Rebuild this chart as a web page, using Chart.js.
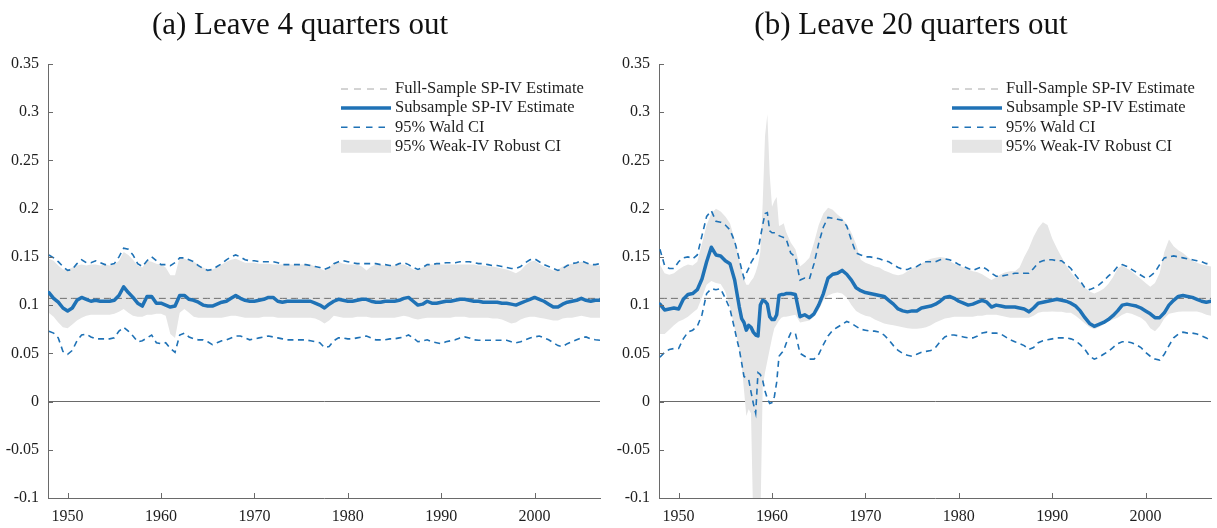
<!DOCTYPE html>
<html>
<head>
<meta charset="utf-8">
<script src="https://cdn.jsdelivr.net/npm/chart.js@4"></script>
<style>
  body { margin: 0; background: #fff; width: 1217px; height: 528px; position: relative; overflow: hidden; }
  canvas { position: absolute; top: 0; }
</style>
</head>
<body>
<canvas id="chart-a" width="608" height="528" style="left:0"></canvas>
<canvas id="chart-b" width="606" height="528" style="left:611px"></canvas>
<script>
const TITLES = ['(a) Leave 4 quarters out', '(b) Leave 20 quarters out'];
const LEGEND_LABELS = ['Full-Sample SP-IV Estimate', 'Subsample SP-IV Estimate', '95% Wald CI', '95% Weak-IV Robust CI'];
const X_TICKS = [1950, 1960, 1970, 1980, 1990, 2000];
const Y_TICKS = [-0.1, -0.05, 0, 0.05, 0.1, 0.15, 0.2, 0.25, 0.3, 0.35];
const FULL_SAMPLE = 0.107;

// panel (a): half-year grid
const A_YEARS = [
  1948, 1948.5, 1949, 1949.5, 1950, 1950.5, 1951, 1951.5, 1952, 1952.5,
  1953, 1953.5, 1954, 1954.5, 1955, 1955.5, 1956, 1956.5, 1957, 1957.5,
  1958, 1958.5, 1959, 1959.5, 1960, 1960.5, 1961, 1961.5, 1962, 1962.5,
  1963, 1963.5, 1964, 1964.5, 1965, 1965.5, 1966, 1966.5, 1967, 1967.5,
  1968, 1968.5, 1969, 1969.5, 1970, 1970.5, 1971, 1971.5, 1972, 1972.5,
  1973, 1973.5, 1974, 1974.5, 1975, 1975.5, 1976, 1976.5, 1977, 1977.5,
  1978, 1978.5, 1979, 1979.5, 1980, 1980.5, 1981, 1981.5, 1982, 1982.5,
  1983, 1983.5, 1984, 1984.5, 1985, 1985.5, 1986, 1986.5, 1987, 1987.5,
  1988, 1988.5, 1989, 1989.5, 1990, 1990.5, 1991, 1991.5, 1992, 1992.5,
  1993, 1993.5, 1994, 1994.5, 1995, 1995.5, 1996, 1996.5, 1997, 1997.5,
  1998, 1998.5, 1999, 1999.5, 2000, 2000.5, 2001, 2001.5, 2002, 2002.5,
  2003, 2003.5, 2004, 2004.5, 2005, 2005.5, 2006, 2006.5, 2007
];
const A_EST = [
  0.113, 0.107, 0.103, 0.097, 0.094, 0.097, 0.105, 0.108, 0.106, 0.104,
  0.105, 0.104, 0.104, 0.104, 0.105, 0.110, 0.119, 0.113, 0.108, 0.102,
  0.099, 0.109, 0.109, 0.102, 0.102, 0.100, 0.098, 0.099, 0.110, 0.110,
  0.106, 0.105, 0.103, 0.100, 0.099, 0.099, 0.101, 0.103, 0.104, 0.107,
  0.110, 0.107, 0.105, 0.104, 0.104, 0.105, 0.106, 0.108, 0.108, 0.104,
  0.103, 0.104, 0.104, 0.104, 0.104, 0.104, 0.104, 0.102, 0.100, 0.097,
  0.101, 0.104, 0.106, 0.105, 0.104, 0.104, 0.105, 0.106, 0.106, 0.104,
  0.103, 0.103, 0.104, 0.104, 0.104, 0.105, 0.107, 0.108, 0.104, 0.100,
  0.101, 0.104, 0.102, 0.102, 0.103, 0.104, 0.104, 0.105, 0.106, 0.106,
  0.105, 0.104, 0.104, 0.103, 0.103, 0.103, 0.103, 0.102, 0.102, 0.101,
  0.100, 0.102, 0.104, 0.106, 0.108, 0.106, 0.104, 0.101, 0.098, 0.098,
  0.101, 0.103, 0.104, 0.105, 0.107, 0.105, 0.104, 0.105, 0.105
];
const A_WALD_HI = [
  0.152, 0.149, 0.145, 0.140, 0.136, 0.137, 0.143, 0.147, 0.144, 0.144,
  0.146, 0.144, 0.142, 0.142, 0.143, 0.150, 0.159, 0.158, 0.152, 0.143,
  0.140, 0.146, 0.150, 0.146, 0.142, 0.142, 0.141, 0.144, 0.149, 0.149,
  0.147, 0.145, 0.141, 0.138, 0.136, 0.137, 0.140, 0.143, 0.147, 0.150,
  0.152, 0.150, 0.147, 0.146, 0.146, 0.145, 0.145, 0.145, 0.145, 0.144,
  0.142, 0.142, 0.142, 0.142, 0.142, 0.142, 0.141, 0.140, 0.139, 0.137,
  0.139, 0.143, 0.145, 0.146, 0.145, 0.144, 0.143, 0.143, 0.143, 0.143,
  0.143, 0.142, 0.142, 0.141, 0.141, 0.143, 0.144, 0.142, 0.139, 0.137,
  0.139, 0.142, 0.142, 0.143, 0.143, 0.144, 0.144, 0.144, 0.145, 0.145,
  0.145, 0.144, 0.143, 0.143, 0.142, 0.141, 0.141, 0.140, 0.139, 0.138,
  0.138, 0.140, 0.144, 0.147, 0.148, 0.145, 0.142, 0.140, 0.138, 0.136,
  0.138, 0.141, 0.143, 0.144, 0.146, 0.144, 0.142, 0.142, 0.143
];
const A_WALD_LO = [
  0.073, 0.071, 0.066, 0.052, 0.049, 0.053, 0.063, 0.069, 0.070, 0.067,
  0.065, 0.065, 0.065, 0.065, 0.066, 0.073, 0.077, 0.073, 0.068, 0.062,
  0.063, 0.066, 0.069, 0.061, 0.060, 0.061, 0.055, 0.051, 0.069, 0.071,
  0.067, 0.065, 0.064, 0.064, 0.062, 0.059, 0.061, 0.063, 0.064, 0.066,
  0.068, 0.068, 0.066, 0.064, 0.065, 0.066, 0.067, 0.068, 0.067, 0.066,
  0.065, 0.064, 0.064, 0.064, 0.064, 0.064, 0.063, 0.062, 0.061, 0.056,
  0.057, 0.063, 0.066, 0.066, 0.065, 0.065, 0.066, 0.067, 0.068, 0.066,
  0.064, 0.064, 0.064, 0.065, 0.065, 0.066, 0.067, 0.069, 0.066, 0.062,
  0.063, 0.064, 0.062, 0.061, 0.060, 0.062, 0.063, 0.064, 0.066, 0.067,
  0.066, 0.064, 0.0635, 0.0635, 0.0635, 0.0635, 0.0635, 0.0635, 0.0635, 0.062,
  0.061, 0.062, 0.064, 0.066, 0.067, 0.068, 0.066, 0.064, 0.061, 0.058,
  0.057, 0.060, 0.062, 0.064, 0.066, 0.067, 0.065, 0.064, 0.0635
];
const A_ROBUST_HI = [
  0.148, 0.146, 0.141, 0.137, 0.137, 0.139, 0.141, 0.142, 0.141, 0.142,
  0.142, 0.141, 0.142, 0.141, 0.142, 0.146, 0.155, 0.152, 0.147, 0.141,
  0.139, 0.146, 0.145, 0.143, 0.142, 0.139, 0.131, 0.131, 0.150, 0.148,
  0.146, 0.145, 0.142, 0.139, 0.137, 0.137, 0.139, 0.142, 0.145, 0.147,
  0.148, 0.146, 0.144, 0.144, 0.144, 0.143, 0.143, 0.143, 0.142, 0.142,
  0.142, 0.142, 0.142, 0.141, 0.142, 0.142, 0.142, 0.140, 0.138, 0.136,
  0.139, 0.144, 0.145, 0.143, 0.142, 0.142, 0.142, 0.140, 0.136, 0.140,
  0.142, 0.142, 0.141, 0.141, 0.141, 0.142, 0.142, 0.140, 0.137, 0.136,
  0.139, 0.142, 0.142, 0.142, 0.142, 0.142, 0.142, 0.142, 0.142, 0.142,
  0.142, 0.142, 0.141, 0.141, 0.140, 0.140, 0.139, 0.138, 0.137, 0.135,
  0.133, 0.136, 0.141, 0.145, 0.146, 0.143, 0.140, 0.138, 0.136, 0.137,
  0.140, 0.142, 0.143, 0.144, 0.145, 0.144, 0.142, 0.141, 0.141
];
const A_ROBUST_LO = [
  0.092, 0.088, 0.082, 0.077, 0.076, 0.080, 0.084, 0.087, 0.089, 0.090,
  0.090, 0.090, 0.090, 0.090, 0.091, 0.093, 0.096, 0.092, 0.089, 0.088,
  0.088, 0.090, 0.090, 0.091, 0.091, 0.089, 0.070, 0.066, 0.092, 0.096,
  0.092, 0.088, 0.087, 0.087, 0.087, 0.087, 0.087, 0.087, 0.088, 0.089,
  0.089, 0.088, 0.087, 0.087, 0.087, 0.087, 0.088, 0.088, 0.088, 0.087,
  0.087, 0.087, 0.087, 0.087, 0.087, 0.087, 0.087, 0.086, 0.084, 0.081,
  0.084, 0.089, 0.088, 0.087, 0.087, 0.087, 0.088, 0.088, 0.088, 0.087,
  0.087, 0.087, 0.087, 0.087, 0.087, 0.088, 0.089, 0.088, 0.086, 0.085,
  0.086, 0.087, 0.087, 0.087, 0.087, 0.087, 0.087, 0.088, 0.088, 0.088,
  0.087, 0.087, 0.087, 0.087, 0.087, 0.086, 0.086, 0.085, 0.083, 0.081,
  0.082, 0.085, 0.087, 0.088, 0.088, 0.087, 0.086, 0.085, 0.084, 0.084,
  0.086, 0.087, 0.087, 0.088, 0.089, 0.088, 0.087, 0.087, 0.087
];

// panel (b): half-year grid, quarterly through the late-1950s swing
const B_YEARS = [
  1948, 1948.5, 1949, 1949.5, 1950, 1950.5, 1951, 1951.5, 1952, 1952.5,
  1953, 1953.5, 1954, 1954.5, 1955, 1955.5, 1956,
  1956.25, 1956.5, 1956.75, 1957, 1957.25, 1957.5, 1957.75, 1958, 1958.25, 1958.5,
  1958.75, 1959, 1959.25, 1959.5, 1959.75, 1960, 1960.25, 1960.5, 1960.75, 1961, 1961.25,
  1961.5, 1962, 1962.5, 1963, 1963.5, 1964, 1964.5, 1965, 1965.5, 1966,
  1966.5, 1967, 1967.5, 1968, 1968.5, 1969, 1969.5, 1970, 1970.5, 1971,
  1971.5, 1972, 1972.5, 1973, 1973.5, 1974, 1974.5, 1975, 1975.5, 1976,
  1976.5, 1977, 1977.5, 1978, 1978.5, 1979, 1979.5, 1980, 1980.5, 1981,
  1981.5, 1982, 1982.5, 1983, 1983.5, 1984, 1984.5, 1985, 1985.5, 1986,
  1986.5, 1987, 1987.5, 1988, 1988.5, 1989, 1989.5, 1990, 1990.5, 1991,
  1991.5, 1992, 1992.5, 1993, 1993.5, 1994, 1994.5, 1995, 1995.5, 1996,
  1996.5, 1997, 1997.5, 1998, 1998.5, 1999, 1999.5, 2000, 2000.5, 2001,
  2001.5, 2002, 2002.5, 2003, 2003.5, 2004, 2004.5, 2005, 2005.5, 2006,
  2006.5, 2007
];
const B_EST = [
  0.101, 0.095, 0.096, 0.097, 0.096, 0.106, 0.111, 0.112, 0.116, 0.127,
  0.145, 0.160, 0.152, 0.151, 0.146, 0.143, 0.126,
  0.112, 0.098, 0.086, 0.082, 0.074, 0.079, 0.077, 0.072, 0.069, 0.068,
  0.100, 0.105, 0.104, 0.101, 0.088, 0.085, 0.085, 0.090, 0.110, 0.111, 0.111,
  0.112, 0.112, 0.111, 0.088, 0.090, 0.087, 0.091, 0.100, 0.112, 0.128,
  0.132, 0.133, 0.136, 0.132, 0.126, 0.118, 0.115, 0.113, 0.112, 0.111,
  0.110, 0.109, 0.105, 0.101, 0.096, 0.094, 0.093, 0.094, 0.094, 0.097,
  0.098, 0.099, 0.101, 0.104, 0.108, 0.109, 0.107, 0.104, 0.102, 0.100,
  0.101, 0.103, 0.105, 0.103, 0.098, 0.100, 0.099, 0.098, 0.098, 0.098,
  0.097, 0.096, 0.093, 0.097, 0.102, 0.103, 0.104, 0.105, 0.106, 0.105,
  0.104, 0.102, 0.099, 0.094, 0.087, 0.081, 0.078, 0.080, 0.082, 0.085,
  0.089, 0.094, 0.100, 0.101, 0.100, 0.099, 0.097, 0.094, 0.091, 0.087,
  0.087, 0.092, 0.100, 0.105, 0.109, 0.110, 0.109, 0.108, 0.106, 0.104,
  0.103, 0.104
];
const B_WALD_HI = [
  0.158, 0.141, 0.138, 0.138, 0.145, 0.149, 0.150, 0.148, 0.152, 0.172,
  0.192, 0.198, 0.187, 0.186, 0.183, 0.178, 0.166,
  0.157, 0.147, 0.137, 0.128, 0.133, 0.138, 0.144, 0.148, 0.151, 0.156,
  0.170, 0.183, 0.195, 0.196, 0.177, 0.175, 0.175, 0.174, 0.172, 0.171, 0.170,
  0.169, 0.154, 0.150, 0.126, 0.128, 0.127, 0.143, 0.164, 0.181, 0.191,
  0.190, 0.189, 0.188, 0.182, 0.167, 0.154, 0.152, 0.150, 0.150, 0.149,
  0.148, 0.146, 0.145, 0.142, 0.139, 0.137, 0.137, 0.139, 0.140, 0.143,
  0.145, 0.145, 0.145, 0.147, 0.148, 0.147, 0.145, 0.142, 0.140, 0.138,
  0.136, 0.138, 0.140, 0.137, 0.133, 0.130, 0.130, 0.131, 0.132, 0.133,
  0.133, 0.133, 0.133, 0.138, 0.144, 0.146, 0.147, 0.147, 0.146, 0.146,
  0.142, 0.138, 0.131, 0.125, 0.118, 0.116, 0.118, 0.121, 0.125, 0.130,
  0.134, 0.140, 0.142, 0.140, 0.137, 0.134, 0.131, 0.128, 0.130, 0.134,
  0.142, 0.149, 0.150, 0.151, 0.150, 0.149, 0.148, 0.147, 0.146, 0.145,
  0.143, 0.143
];
const B_WALD_LO = [
  0.046, 0.051, 0.054, 0.055, 0.055, 0.065, 0.072, 0.074, 0.078, 0.090,
  0.112, 0.117, 0.116, 0.117, 0.107, 0.096, 0.075,
  0.064, 0.054, 0.040, 0.026, 0.024, 0.023, 0.010, -0.002, -0.012, 0.030,
  0.028, 0.022, 0.011, 0.003, -0.002, -0.001, 0.005, 0.020, 0.047, 0.050, 0.053,
  0.060, 0.071, 0.071, 0.050, 0.047, 0.044, 0.044, 0.049, 0.059, 0.068,
  0.074, 0.077, 0.080, 0.083, 0.081, 0.078, 0.075, 0.074, 0.073, 0.073,
  0.072, 0.069, 0.064, 0.058, 0.053, 0.050, 0.048, 0.047, 0.049, 0.051,
  0.052, 0.053, 0.056, 0.062, 0.067, 0.069, 0.069, 0.068, 0.067, 0.066,
  0.066, 0.068, 0.071, 0.072, 0.071, 0.071, 0.070, 0.067, 0.064, 0.062,
  0.060, 0.058, 0.054, 0.056, 0.061, 0.063, 0.064, 0.065, 0.066, 0.066,
  0.066, 0.065, 0.063, 0.059, 0.054, 0.047, 0.044, 0.046, 0.049, 0.052,
  0.056, 0.060, 0.062, 0.062, 0.061, 0.059, 0.056, 0.051, 0.047, 0.044,
  0.043, 0.049, 0.058, 0.066, 0.070, 0.072, 0.071, 0.071, 0.070, 0.068,
  0.066, 0.063
];
const B_ROBUST_HI = [
  0.142, 0.133, 0.1315, 0.133, 0.137, 0.140, 0.142, 0.141, 0.145, 0.164,
  0.183, 0.195, 0.200, 0.197, 0.192, 0.185, 0.168,
  0.158, 0.147, 0.136, 0.127, 0.121, 0.121, 0.125, 0.128, 0.134, 0.142,
  0.155, 0.205, 0.275, 0.298, 0.236, 0.202, 0.208, 0.212, 0.182, 0.183, 0.185,
  0.176, 0.165, 0.158, 0.140, 0.144, 0.149, 0.165, 0.183, 0.195, 0.201,
  0.199, 0.194, 0.190, 0.184, 0.175, 0.163, 0.147, 0.144, 0.142, 0.140,
  0.139, 0.136, 0.134, 0.132, 0.131, 0.132, 0.135, 0.138, 0.140, 0.143,
  0.146, 0.148, 0.149, 0.150, 0.149, 0.146, 0.143, 0.141, 0.139, 0.137,
  0.135, 0.134, 0.132, 0.129, 0.126, 0.129, 0.132, 0.134, 0.135, 0.135,
  0.139, 0.150, 0.159, 0.171, 0.180, 0.186, 0.183, 0.169, 0.159, 0.150,
  0.141, 0.134, 0.128, 0.123, 0.118, 0.114, 0.112, 0.114, 0.117, 0.122,
  0.129, 0.138, 0.141, 0.138, 0.135, 0.131, 0.127, 0.123, 0.119, 0.123,
  0.133, 0.155, 0.168, 0.161, 0.157, 0.154, 0.150, 0.146, 0.144, 0.142,
  0.141, 0.140
];
const B_ROBUST_LO = [
  0.070, 0.070, 0.0745, 0.079, 0.083, 0.085, 0.088, 0.092, 0.096, 0.108,
  0.121, 0.125, 0.123, 0.122, 0.114, 0.098, 0.076,
  0.066, 0.053, 0.038, 0.012, -0.015, -0.008, -0.012, -0.13, -0.13, -0.13,
  -0.13, 0.015, 0.030, 0.042, 0.054, 0.066, 0.076, 0.080, 0.084, 0.087, 0.088,
  0.088, 0.089, 0.090, 0.082, 0.083, 0.084, 0.088, 0.095, 0.105, 0.110,
  0.112, 0.113, 0.112, 0.108, 0.100, 0.094, 0.091, 0.089, 0.088, 0.085,
  0.083, 0.081, 0.080, 0.079, 0.078, 0.077, 0.076, 0.0755, 0.0755, 0.076,
  0.077, 0.079, 0.082, 0.084, 0.086, 0.087, 0.088, 0.088, 0.088, 0.088,
  0.088, 0.089, 0.089, 0.090, 0.090, 0.090, 0.089, 0.088, 0.087, 0.087,
  0.087, 0.087, 0.087, 0.089, 0.092, 0.093, 0.093, 0.0935, 0.093, 0.093,
  0.092, 0.092, 0.089, 0.085, 0.081, 0.077, 0.075, 0.077, 0.080, 0.083,
  0.085, 0.087, 0.090, 0.092, 0.091, 0.089, 0.087, 0.083, 0.076, 0.073,
  0.078, 0.086, 0.091, 0.092, 0.093, 0.0935, 0.0935, 0.0935, 0.0935, 0.092,
  0.090, 0.089
];

const FONT = "'Liberation Serif', 'Times New Roman', serif";
const BLUE = '#1f72b6';
const BAND_GRAY = '#e5e5e5';
const AXIS_GRAY = '#6a6a6a';
const TEXT_DARK = '#1e1e1e';

// MATLAB-style ticks pointing into the plot
const inwardTicks = {
  id: 'inwardTicks',
  afterDraw(chart) {
    const { ctx, chartArea, scales } = chart;
    ctx.save();
    ctx.strokeStyle = AXIS_GRAY;
    ctx.lineWidth = 1;
    ctx.beginPath();
    scales.y.ticks.forEach(t => {
      const y = Math.round(scales.y.getPixelForValue(t.value)) + 0.5;
      ctx.moveTo(chartArea.left, y);
      ctx.lineTo(chartArea.left + 5, y);
    });
    scales.x.ticks.forEach(t => {
      const x = Math.round(scales.x.getPixelForValue(t.value)) + 0.5;
      ctx.moveTo(x, chartArea.bottom);
      ctx.lineTo(x, chartArea.bottom - 5);
    });
    ctx.stroke();
    ctx.restore();
  }
};

// legend in the upper right corner of the plot area
const cornerLegend = {
  id: 'cornerLegend',
  afterDraw(chart) {
    const { ctx, chartArea } = chart;
    const x0 = chartArea.right - 259;
    const x1 = x0 + 50;
    const tx = chartArea.right - 205;
    ctx.save();
    LEGEND_LABELS.forEach((label, i) => {
      const y = chartArea.top + 25 + i * 19.1;
      ctx.beginPath();
      if (i === 0) {
        ctx.strokeStyle = '#a8a8a8';
        ctx.lineWidth = 1;
        ctx.setLineDash([7, 6]);
        ctx.moveTo(x0, y); ctx.lineTo(x1, y); ctx.stroke();
      } else if (i === 1) {
        ctx.strokeStyle = BLUE;
        ctx.lineWidth = 3.5;
        ctx.setLineDash([]);
        ctx.moveTo(x0, y); ctx.lineTo(x1, y); ctx.stroke();
      } else if (i === 2) {
        ctx.strokeStyle = BLUE;
        ctx.lineWidth = 1.6;
        ctx.setLineDash([6.5, 6]);
        ctx.moveTo(x0, y); ctx.lineTo(x1, y); ctx.stroke();
      } else {
        ctx.fillStyle = BAND_GRAY;
        ctx.fillRect(x0, y - 6.5, x1 - x0, 13);
      }
      ctx.setLineDash([]);
      ctx.fillStyle = TEXT_DARK;
      ctx.font = `16.5px ${FONT}`;
      ctx.textBaseline = 'middle';
      ctx.fillText(label, tx, y);
    });
    ctx.restore();
  }
};

function buildPanel(canvasId, title, years, est, waldHi, waldLo, robustHi, robustLo, padRight) {
  const line = (extra) => Object.assign({
    pointRadius: 0,
    pointHoverRadius: 0,
    fill: false,
    tension: 0
  }, extra);

  return new Chart(document.getElementById(canvasId), {
    type: 'line',
    data: {
      labels: years,
      datasets: [
        line({ label: LEGEND_LABELS[1], data: est, borderColor: BLUE, borderWidth: 3.5, borderJoinStyle: 'round', borderCapStyle: 'round' }),
        line({ label: LEGEND_LABELS[0], data: years.map(() => FULL_SAMPLE), borderColor: '#6e6e6e', borderWidth: 1, borderDash: [7, 4] }),
        line({ label: LEGEND_LABELS[2], data: waldHi, borderColor: BLUE, borderWidth: 1.6, borderDash: [6, 4.5] }),
        line({ label: LEGEND_LABELS[2], data: waldLo, borderColor: BLUE, borderWidth: 1.6, borderDash: [6, 4.5] }),
        line({ label: LEGEND_LABELS[3], data: robustHi, borderColor: 'rgba(0,0,0,0)', borderWidth: 0, backgroundColor: BAND_GRAY, fill: '+1' }),
        line({ label: LEGEND_LABELS[3], data: robustLo, borderColor: 'rgba(0,0,0,0)', borderWidth: 0 })
      ]
    },
    options: {
      responsive: false,
      animation: false,
      devicePixelRatio: 1,
      layout: { padding: { left: 0, right: padRight, top: 0, bottom: 0 } },
      events: [],
      scales: {
        x: {
          type: 'linear',
          min: 1947.9,
          max: 2007,
          afterBuildTicks: s => { s.ticks = X_TICKS.map(v => ({ value: v })); },
          afterFit: s => { s.height = 30; },
          grid: { display: false },
          border: { display: true, color: AXIS_GRAY, width: 1 },
          ticks: {
            autoSkip: false,
            maxRotation: 0,
            padding: 1,
            color: TEXT_DARK,
            font: { family: FONT, size: 16 },
            callback: v => String(v)
          }
        },
        y: {
          min: -0.1,
          max: 0.35,
          afterBuildTicks: s => { s.ticks = Y_TICKS.map(v => ({ value: v })); },
          afterFit: s => { s.width = 48; },
          grid: {
            drawTicks: false,
            lineWidth: 1,
            color: c => (c.tick && Math.abs(c.tick.value) < 1e-9) ? AXIS_GRAY : 'rgba(0,0,0,0)'
          },
          border: { display: true, color: AXIS_GRAY, width: 1 },
          ticks: {
            padding: 9,
            color: TEXT_DARK,
            font: { family: FONT, size: 16 },
            callback: v => String(Math.round(v * 100) / 100)
          }
        }
      },
      plugins: {
        legend: { display: false },
        tooltip: { enabled: false },
        title: {
          display: true,
          text: title,
          color: '#111',
          font: { family: FONT, size: 31, weight: 'normal', lineHeight: 1.2 },
          padding: { top: 7, bottom: 19.8 }
        }
      }
    },
    plugins: [inwardTicks, cornerLegend]
  });
}

buildPanel('chart-a', TITLES[0], A_YEARS, A_EST, A_WALD_HI, A_WALD_LO, A_ROBUST_HI, A_ROBUST_LO, 8);
buildPanel('chart-b', TITLES[1], B_YEARS, B_EST, B_WALD_HI, B_WALD_LO, B_ROBUST_HI, B_ROBUST_LO, 6);
</script>
</body>
</html>
